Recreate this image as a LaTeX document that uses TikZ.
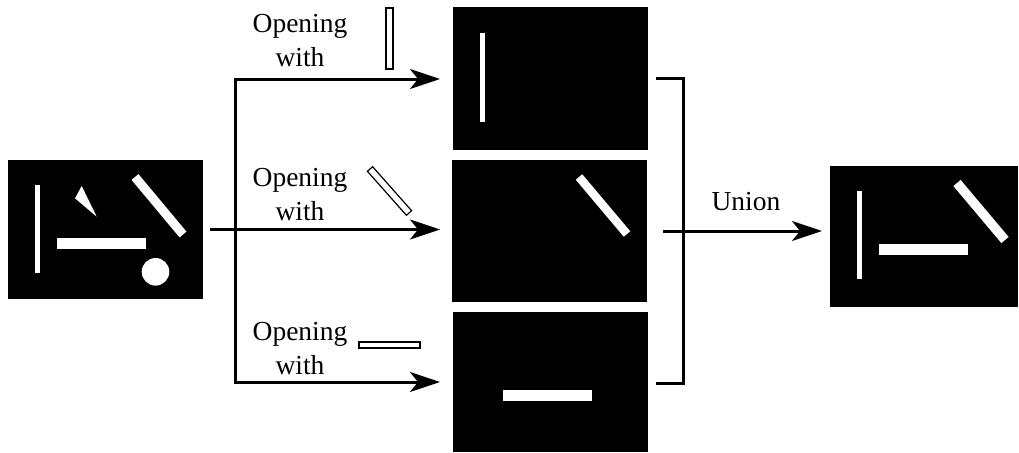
\documentclass[tikz,border=0pt]{standalone}
\usepackage{fontspec}
\setmainfont{Liberation Serif}
\usetikzlibrary{arrows.meta}
\begin{document}
\begin{tikzpicture}[x=1pt,y=-1pt,
  img/.style={fill=black, draw=none, inner sep=0pt, outer sep=0pt, anchor=north west},
  conn/.style={line width=3pt},
  arr/.style={conn, -{Stealth[length=30pt,width=20pt,inset=8pt]}},
  lbl/.style={font=\fontsize{27.5}{34}\selectfont, inner sep=0pt, align=center, anchor=base},
  se/.style={draw=black, line width=1.2pt, fill=white},
  wbar/.style={draw=white, line cap=butt},
  wfill/.style={fill=white, draw=none}]
\useasboundingbox (0,0) rectangle (1019,452);

% images
\node[img, minimum width=195pt, minimum height=139pt] (src) at (8,160) {};
\node[img, minimum width=195pt, minimum height=143pt] (o1) at (453,7) {};
\node[img, minimum width=195pt, minimum height=142pt] (o2) at (452,160) {};
\node[img, minimum width=195pt, minimum height=140pt] (o3) at (453,312) {};
\node[img, minimum width=188pt, minimum height=141pt] (res) at (830,166) {};

% source contents
\fill[wfill] (35,185) rectangle (40,273);
\fill[wfill] (75,198.3) -- (81.7,186) -- (96.7,216.7) -- cycle;
\draw[wbar, line width=9pt] (135,177) -- (183,234.5);
\fill[wfill] (57,238) rectangle (146,249);
\fill[wfill] (155.5,271.8) circle[radius=13.8];

% opening results
\fill[wfill] (480,33) rectangle (485,122);
\draw[wbar, line width=8.5pt] (579,177) -- (627,234);
\fill[wfill] (503,390) rectangle (592,401);

% union result
\fill[wfill] (857,191) rectangle (862,279);
\fill[wfill] (879,244) rectangle (968,255);
\draw[wbar, line width=9.5pt] (957,183) -- (1005,240);

% structuring elements
\draw[se] (386,8) rectangle (393,69);
\draw[se] (367.4,171.3) -- (372.6,166.7) -- (411.6,210.7) -- (406.4,215.3) -- cycle;
\draw[se] (359,342) rectangle (420,348);

% labels (anchor base = baseline of last line)
\node[lbl] (l1) at (300,66.5) {Opening\\with};
\node[lbl] (l2) at (300,220) {Opening\\with};
\node[lbl] (l3) at (300,374) {Opening\\with};
\node[lbl] (lu) at (746,210) {Union};

% connectors
\coordinate (start) at ([xshift=7pt]src.east);
\coordinate (bt) at (235,79);
\coordinate (bb) at (235,382);
\coordinate (t1) at ([xshift=-13pt]o1.west |- bt);
\coordinate (t2) at ([xshift=-12pt]o2.west |- start);
\coordinate (t3) at ([xshift=-13pt]o3.west |- bb);
\draw[conn, {Stealth[length=30pt,width=20pt,inset=8pt]}-{Stealth[length=30pt,width=20pt,inset=8pt]}] (t1) -- (bt) -- (bb) -- (t3);
\draw[arr] (start) -- (t2);

\coordinate (k1) at (656,78);
\coordinate (k2) at (683,78);
\coordinate (k3) at (683,383);
\coordinate (k4) at (656,383);
\draw[conn] (k1) -- (k2) -- (k3) -- (k4);
\coordinate (us) at (663,231);
\coordinate (ue) at ([xshift=-8pt]res.west |- us);
\draw[arr] (us) -- (ue);
\end{tikzpicture}
\end{document}
